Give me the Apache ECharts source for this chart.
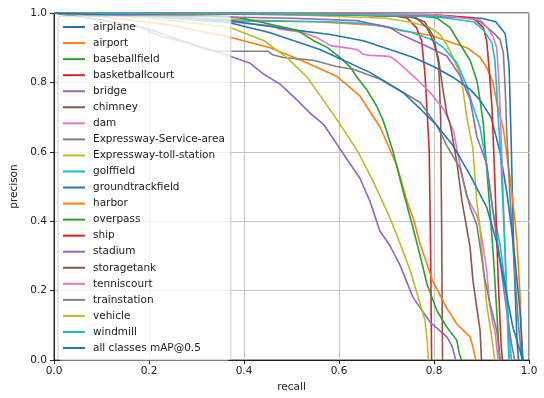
<!DOCTYPE html>
<html>
<head>
<meta charset="utf-8">
<script src="https://cdn.jsdelivr.net/npm/echarts@6/dist/echarts.min.js"></script>
<style>html,body{margin:0;padding:0;background:#fff}#c{width:544px;height:398px}</style>
</head>
<body>
<div id="c"></div>
<script>
// ---- data: [recall, precision] points ----
const classNames = ["airplane","airport","baseballfield","basketballcourt","bridge","chimney","dam","Expressway-Service-area","Expressway-toll-station","golffield","groundtrackfield","harbor","overpass","ship","stadium","storagetank","tenniscourt","trainstation","vehicle","windmill","all classes mAP@0.5"];
const tickLabels = ["0.0","0.2","0.4","0.6","0.8","1.0"];

const airplane = [[0,1],[0.3,0.998],[0.6,0.995],[0.8,0.99],[0.9,0.985],[0.93,0.975],[0.95,0.94],[0.958,0.85],[0.963,0.6],[0.968,0.3],[0.975,0.05],[0.978,0]];
const airport = [[0,1],[0.2,0.99],[0.4,0.98],[0.55,0.975],[0.687,0.964],[0.728,0.95],[0.792,0.936],[0.826,0.92],[0.869,0.9],[0.897,0.872],[0.911,0.843],[0.924,0.8],[0.934,0.73],[0.946,0.667],[0.96,0.524],[0.97,0.41],[0.975,0.333],[0.981,0.19],[0.985,0.05],[0.987,0]];
const baseballfield = [[0,1],[0.4,0.998],[0.7,0.995],[0.78,0.99],[0.806,0.986],[0.834,0.958],[0.855,0.91],[0.876,0.864],[0.89,0.807],[0.897,0.749],[0.904,0.68],[0.907,0.618],[0.911,0.552],[0.918,0.428],[0.925,0.3],[0.932,0.143],[0.936,0.05],[0.939,0]];
const basketballcourt = [[0,1],[0.5,0.998],[0.7,0.995],[0.743,0.986],[0.763,0.958],[0.774,0.92],[0.781,0.824],[0.785,0.73],[0.79,0.6],[0.793,0.3],[0.795,0]];
const bridge = [[0,1],[0.05,0.99],[0.1,0.98],[0.19,0.958],[0.27,0.92],[0.316,0.9],[0.365,0.878],[0.413,0.855],[0.44,0.825],[0.476,0.795],[0.512,0.749],[0.54,0.71],[0.567,0.68],[0.602,0.609],[0.644,0.524],[0.665,0.458],[0.686,0.372],[0.707,0.33],[0.728,0.275],[0.756,0.18],[0.792,0.109],[0.827,0.067],[0.838,0.04],[0.846,0]];
const chimney = [[0,1],[0.6,0.995],[0.75,0.99],[0.78,0.975],[0.8,0.93],[0.81,0.85],[0.814,0.7],[0.816,0.4],[0.818,0]];
const dam = [[0,1],[0.1,0.995],[0.2,0.99],[0.3,0.982],[0.37,0.975],[0.46,0.963],[0.476,0.953],[0.525,0.944],[0.554,0.929],[0.582,0.906],[0.609,0.901],[0.638,0.895],[0.651,0.881],[0.666,0.878],[0.707,0.875],[0.722,0.861],[0.764,0.809],[0.792,0.771],[0.82,0.724],[0.841,0.66],[0.855,0.56],[0.869,0.47],[0.89,0.418],[0.897,0.381],[0.904,0.324],[0.911,0.258],[0.917,0.161],[0.924,0.104],[0.928,0.086],[0.935,0]];
const expresswayServiceArea = [[0,1],[0.5,0.998],[0.8,0.995],[0.88,0.985],[0.897,0.975],[0.924,0.944],[0.939,0.924],[0.946,0.885],[0.95,0.78],[0.953,0.66],[0.96,0.47],[0.97,0.25],[0.978,0.1],[0.985,0]];
const expresswayTollStation = [[0,1],[0.5,0.995],[0.7,0.985],[0.757,0.972],[0.792,0.958],[0.813,0.938],[0.827,0.909],[0.84,0.872],[0.855,0.824],[0.861,0.78],[0.869,0.7],[0.882,0.609],[0.89,0.457],[0.897,0.38],[0.9,0.324],[0.905,0.25],[0.911,0.16],[0.92,0.08],[0.928,0]];
const golffield = [[0,1],[0.2,0.99],[0.37,0.977],[0.58,0.975],[0.65,0.97],[0.7,0.96],[0.75,0.945],[0.792,0.925],[0.806,0.914],[0.82,0.9],[0.848,0.857],[0.869,0.79],[0.88,0.74],[0.897,0.67],[0.911,0.56],[0.924,0.43],[0.939,0.333],[0.953,0.19],[0.96,0.05],[0.963,0]];
const groundtrackfield = [[0,1],[0.2,0.995],[0.37,0.978],[0.455,0.961],[0.512,0.95],[0.582,0.938],[0.651,0.92],[0.707,0.895],[0.757,0.872],[0.8,0.845],[0.84,0.815],[0.876,0.78],[0.897,0.749],[0.92,0.7],[0.939,0.6],[0.953,0.486],[0.966,0.352],[0.981,0.143],[0.987,0]];
const harbor = [[0,1],[0.1,0.99],[0.24,0.966],[0.3,0.95],[0.371,0.93],[0.413,0.915],[0.455,0.9],[0.525,0.861],[0.595,0.818],[0.644,0.761],[0.687,0.67],[0.722,0.56],[0.743,0.458],[0.756,0.41],[0.771,0.333],[0.797,0.229],[0.826,0.152],[0.848,0.104],[0.876,0.067],[0.882,0.038],[0.888,0]];
const overpass = [[0,1],[0.2,0.995],[0.35,0.99],[0.392,0.986],[0.441,0.972],[0.512,0.95],[0.546,0.921],[0.575,0.901],[0.602,0.872],[0.624,0.844],[0.638,0.815],[0.659,0.778],[0.68,0.73],[0.693,0.69],[0.714,0.6],[0.735,0.486],[0.756,0.38],[0.771,0.3],[0.785,0.22],[0.806,0.143],[0.827,0.095],[0.848,0.057],[0.853,0.02],[0.858,0]];
const ship = [[0,1],[0.5,0.998],[0.8,0.995],[0.882,0.986],[0.904,0.958],[0.911,0.92],[0.917,0.824],[0.922,0.73],[0.928,0.524],[0.935,0.238],[0.941,0.05],[0.944,0]];
const stadium = [[0,1],[0.3,0.99],[0.5,0.985],[0.638,0.978],[0.707,0.958],[0.735,0.935],[0.785,0.904],[0.827,0.876],[0.855,0.819],[0.876,0.752],[0.89,0.645],[0.911,0.565],[0.924,0.43],[0.939,0.286],[0.953,0.143],[0.963,0.048],[0.97,0]];
const storagetank = [[0,1],[0.6,0.995],[0.74,0.99],[0.763,0.986],[0.785,0.958],[0.798,0.92],[0.809,0.872],[0.819,0.778],[0.827,0.71],[0.834,0.68],[0.848,0.57],[0.859,0.457],[0.869,0.38],[0.876,0.324],[0.882,0.229],[0.89,0.152],[0.897,0.086],[0.9,0]];
const tenniscourt = [[0,1],[0.5,0.998],[0.8,0.995],[0.897,0.98],[0.911,0.961],[0.924,0.933],[0.932,0.9],[0.936,0.82],[0.94,0.7],[0.945,0.5],[0.95,0.3],[0.955,0.1],[0.958,0]];
const trainstation = [[0,1],[0.05,0.99],[0.1,0.98],[0.18,0.96],[0.224,0.933],[0.28,0.915],[0.32,0.895],[0.343,0.89],[0.45,0.89],[0.46,0.88],[0.483,0.872],[0.546,0.864],[0.595,0.846],[0.63,0.838],[0.687,0.809],[0.735,0.771],[0.771,0.742],[0.806,0.676],[0.827,0.618],[0.855,0.552],[0.876,0.44],[0.89,0.39],[0.9,0.3],[0.906,0.24],[0.918,0.162],[0.932,0.086],[0.939,0]];
const vehicle = [[0,1],[0.1,0.995],[0.2,0.985],[0.3,0.97],[0.371,0.958],[0.441,0.921],[0.49,0.872],[0.533,0.815],[0.567,0.749],[0.602,0.68],[0.64,0.6],[0.672,0.515],[0.707,0.41],[0.724,0.352],[0.75,0.258],[0.771,0.161],[0.781,0.115],[0.786,0.05],[0.788,0]];
const windmill = [[0,1],[0.5,0.998],[0.8,0.99],[0.883,0.975],[0.905,0.95],[0.922,0.914],[0.928,0.866],[0.932,0.78],[0.935,0.7],[0.94,0.6],[0.945,0.45],[0.95,0.3],[0.955,0.12],[0.958,0]];
const allClasses = [[0,1],[0.2,0.99],[0.37,0.972],[0.455,0.943],[0.56,0.895],[0.665,0.829],[0.735,0.771],[0.771,0.724],[0.806,0.676],[0.84,0.618],[0.876,0.533],[0.911,0.44],[0.932,0.34],[0.946,0.238],[0.966,0.095],[0.987,0]];

const curves = [airplane, airport, baseballfield, basketballcourt, bridge, chimney, dam, expresswayServiceArea, expresswayTollStation, golffield, groundtrackfield, harbor, overpass, ship, stadium, storagetank, tenniscourt, trainstation, vehicle, windmill, allClasses];
const palette = ['#1f77b4','#ff7f0e','#2ca02c','#d62728','#9467bd','#8c564b','#e377c2','#7f7f7f','#bcbd22','#17becf'];

const FONT = 'DejaVu Sans';
const chart = echarts.init(document.getElementById('c'), null, {renderer: 'canvas'});
const series = classNames.map((n, i) => ({
  name: n,
  type: 'line',
  data: curves[i],
  showSymbol: false,
  symbol: 'none',
  smooth: false,
  animation: false,
  color: palette[i % 10],
  lineStyle: {width: 1.6, color: palette[i % 10]}
}));

const axisCommon = {
  type: 'value', min: 0, max: 1, interval: 0.2,
  axisLine: {show: true, lineStyle: {color: '#222', width: 1}},
  axisTick: {show: true, length: 4, lineStyle: {color: '#222'}},
  splitLine: {show: true, lineStyle: {color: '#c4c4c4', width: 1}},
  axisLabel: {color: '#222', fontFamily: FONT, fontSize: 10.5, formatter: v => tickLabels[Math.round(v * 5)]},
  nameLocation: 'middle',
  nameTextStyle: {color: '#222', fontFamily: FONT, fontSize: 10.5}
};

chart.setOption({
  animation: false,
  backgroundColor: '#fff',
  grid: {left: 54, right: 15, top: 13, bottom: 35, show: true, borderColor: '#222', borderWidth: 1, backgroundColor: 'transparent'},
  xAxis: Object.assign({}, axisCommon, {name: 'recall', nameGap: 20, axisLabel: Object.assign({}, axisCommon.axisLabel, {margin: 6})}),
  yAxis: Object.assign({}, axisCommon, {name: 'precison', nameGap: 28, axisLabel: Object.assign({}, axisCommon.axisLabel, {margin: 7})}),
  legend: {
    show: true, orient: 'vertical', left: 58, top: 16,
    icon: 'rect', itemWidth: 22, itemHeight: 2, itemGap: 0,
    padding: [3, 6, 4, 5],
    backgroundColor: 'rgba(255,255,255,0.8)',
    borderColor: '#cccccc', borderWidth: 1, borderRadius: 3,
    textStyle: {color: '#222', fontFamily: FONT, fontSize: 10.5, lineHeight: 16.05, padding: [0, 0, 0, 3]},
    selectedMode: false,
    data: classNames
  },
  series: series
});
</script>
</body>
</html>
